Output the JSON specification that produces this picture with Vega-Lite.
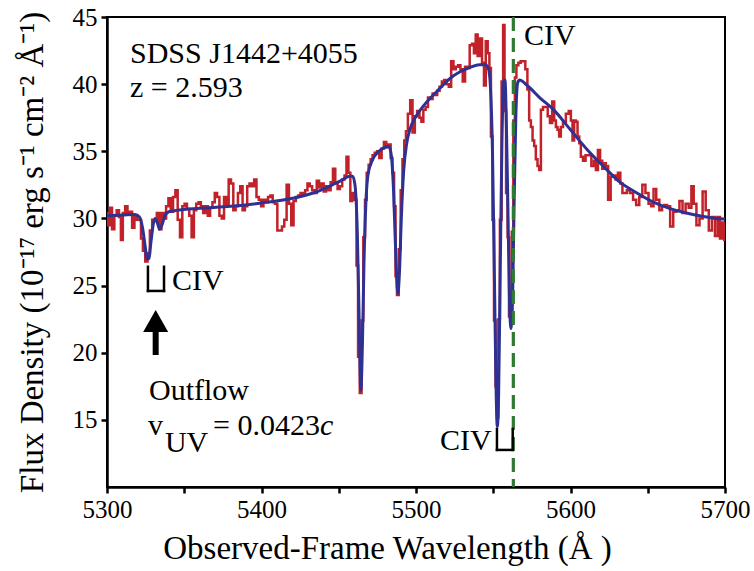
{
  "$schema": "https://vega.github.io/schema/vega-lite/v6.json",
  "width": 618,
  "height": 470,
  "autosize": {"type": "none"},
  "padding": {"left": 107, "top": 17, "right": 29, "bottom": 84},
  "background": "white",
  "config": {
    "view": {"stroke": "black", "strokeWidth": 2},
    "axis": {
      "labelFont": "Liberation Serif",
      "labelFontSize": 25,
      "labelColor": "black",
      "titleFont": "Liberation Serif",
      "titleFontSize": 33,
      "titleFontWeight": "normal",
      "titleColor": "black",
      "domainColor": "black",
      "domainWidth": 2.5,
      "tickColor": "black",
      "tickWidth": 2.5,
      "tickSize": 6,
      "labelPadding": 4,
      "grid": false,
      "labelFlush": false,
      "labelOverlap": false,
      "labelBound": false
    }
  },
  "datasets": {
    "spectrum": [
      {"w":5300,"f":30.4},{"w":5301.5,"f":29.5},{"w":5302.5,"f":30.8},{"w":5304,"f":29.2},{"w":5305.5,"f":30.2},{"w":5307,"f":30.6},{"w":5308.5,"f":30.1},{"w":5309.5,"f":28.4},{"w":5311,"f":30.4},{"w":5312.5,"f":30.9},{"w":5314,"f":30.4},{"w":5315.5,"f":30.5},{"w":5317,"f":29.3},{"w":5318.5,"f":30.2},{"w":5320,"f":29.9},{"w":5321.5,"f":29.9},{"w":5322.5,"f":28.5},{"w":5324,"f":27.6},{"w":5325.5,"f":26.8},{"w":5327,"f":27.4},{"w":5328.5,"f":29.1},{"w":5330,"f":29.9},{"w":5331.5,"f":29.8},{"w":5333,"f":30.4},{"w":5334.5,"f":29.2},{"w":5336,"f":30.4},{"w":5337.5,"f":30.0},{"w":5339,"f":30.9},{"w":5340.5,"f":31.5},{"w":5342,"f":30.5},{"w":5343.5,"f":31.6},{"w":5345,"f":32.1},{"w":5346.5,"f":29.9},{"w":5348,"f":28.6},{"w":5349.5,"f":30.9},{"w":5351,"f":31.1},{"w":5352.5,"f":30.7},{"w":5354,"f":30.2},{"w":5355.5,"f":28.6},{"w":5357,"f":30.6},{"w":5358.5,"f":31.1},{"w":5360,"f":31.2},{"w":5361.5,"f":30.9},{"w":5363,"f":30.4},{"w":5364.5,"f":30.9},{"w":5366,"f":30.2},{"w":5367.5,"f":30.8},{"w":5369,"f":31.2},
      {"w":5370.5,"f":31.9},{"w":5372,"f":31.6},{"w":5373.5,"f":30.2},{"w":5375,"f":30.0},{"w":5376.5,"f":31.6},{"w":5378,"f":31.1},{"w":5379.5,"f":32.9},{"w":5381,"f":32.6},{"w":5382.5,"f":30.6},{"w":5384,"f":30.9},{"w":5385.5,"f":31.9},{"w":5387,"f":32.4},{"w":5388.5,"f":30.6},{"w":5390,"f":30.9},{"w":5391.5,"f":32.4},{"w":5393,"f":32.6},{"w":5394.5,"f":32.4},{"w":5396,"f":32.9},{"w":5397.5,"f":31.6},{"w":5399,"f":31.4},{"w":5400.5,"f":30.9},{"w":5402,"f":31.4},{"w":5403.5,"f":31.2},{"w":5405,"f":31.6},{"w":5406.5,"f":31.7},{"w":5408,"f":31.2},{"w":5409.5,"f":31.1},{"w":5411,"f":29.1},{"w":5412.5,"f":29.1},{"w":5414,"f":29.4},{"w":5415.5,"f":29.9},{"w":5417,"f":32.5},{"w":5418.5,"f":31.1},{"w":5420,"f":29.5},{"w":5421.5,"f":31.3},{"w":5423,"f":31.6},{"w":5424.5,"f":31.7},{"w":5426,"f":31.9},{"w":5427.5,"f":31.8},{"w":5429,"f":32.1},{"w":5430.5,"f":32.6},{"w":5432,"f":32.4},{"w":5433.5,"f":32.1},{"w":5435,"f":31.9},{"w":5436.5,"f":32.8},{"w":5438,"f":32.3},
      {"w":5439.5,"f":32.6},{"w":5441,"f":32.0},{"w":5442.5,"f":32.4},{"w":5444,"f":32.1},{"w":5445.5,"f":32.7},{"w":5447,"f":33.7},{"w":5448.5,"f":32.6},{"w":5450,"f":32.2},{"w":5451.5,"f":32.4},{"w":5453,"f":32.9},{"w":5454.5,"f":33.2},{"w":5455.5,"f":34.6},{"w":5457,"f":33.4},{"w":5458,"f":31.3},{"w":5459.5,"f":31.9},{"w":5461,"f":31.4},{"w":5462,"f":26.5},{"w":5463,"f":19.7},{"w":5464.2,"f":17.0},{"w":5465.3,"f":22.4},{"w":5466.5,"f":28.6},{"w":5467.5,"f":31.4},{"w":5468.7,"f":33.4},{"w":5470,"f":34.0},{"w":5471.3,"f":34.4},{"w":5472.5,"f":34.7},{"w":5474,"f":34.9},{"w":5475.5,"f":35.0},{"w":5477,"f":34.5},{"w":5478.5,"f":35.2},{"w":5480,"f":35.7},{"w":5481.5,"f":35.3},{"w":5483,"f":35.5},{"w":5484.2,"f":34.5},{"w":5485.3,"f":33.4},{"w":5486.3,"f":30.9},{"w":5487.2,"f":25.7},{"w":5488.2,"f":24.3},{"w":5489.5,"f":27.7},{"w":5490.7,"f":32.1},{"w":5491.8,"f":34.4},{"w":5493,"f":35.8},
      {"w":5494,"f":36.5},{"w":5495.5,"f":37.8},{"w":5497,"f":38.8},{"w":5498.5,"f":36.4},{"w":5500,"f":37.6},{"w":5501.5,"f":38.0},{"w":5503,"f":37.5},{"w":5504,"f":37.2},{"w":5505.5,"f":38.1},{"w":5507,"f":38.3},{"w":5508.5,"f":39.0},{"w":5510,"f":38.9},{"w":5511.5,"f":39.3},{"w":5513,"f":39.2},{"w":5514.5,"f":39.5},{"w":5516,"f":39.8},{"w":5517.5,"f":40.2},{"w":5519,"f":40.3},{"w":5520.5,"f":40.0},{"w":5522,"f":39.8},{"w":5523.5,"f":41.7},{"w":5525,"f":41.1},{"w":5526.5,"f":41.3},{"w":5528,"f":41.4},{"w":5529.5,"f":41.1},{"w":5531,"f":40.2},{"w":5532.5,"f":41.3},{"w":5534,"f":41.2},{"w":5535.5,"f":42.9},{"w":5537,"f":43.0},{"w":5538,"f":42.3},{"w":5539.3,"f":43.7},{"w":5540.5,"f":42.1},{"w":5542,"f":43.4},{"w":5543.5,"f":41.6},{"w":5544.5,"f":39.9},{"w":5545.8,"f":43.2},{"w":5547,"f":42.3},{"w":5548,"f":41.2},{"w":5549,"f":36.1},{"w":5550,"f":29.9},{"w":5551,"f":22.4},{"w":5552,"f":17.5},{"w":5552.8,"f":15.2},{"w":5553.8,"f":22.5},{"w":5554.8,"f":29.9},{"w":5556,"f":40.2},{"w":5556.8,"f":44.4},{"w":5557.8,"f":38.0},{"w":5558.8,"f":31.9},{"w":5559.8,"f":28.6},{"w":5560.6,"f":22.7},{"w":5561.5,"f":22.4},{"w":5562.5,"f":29.0},{"w":5563.5,"f":37.3},{"w":5564.5,"f":40.5},{"w":5565.5,"f":41.4},{"w":5567,"f":41.6},
      {"w":5568.5,"f":41.7},{"w":5570,"f":41.7},{"w":5571.5,"f":41.1},{"w":5572.7,"f":39.6},{"w":5573.8,"f":37.3},{"w":5574.9,"f":36.8},{"w":5576,"f":35.8},{"w":5577,"f":35.4},{"w":5578.1,"f":34.4},{"w":5579.2,"f":33.9},{"w":5580.3,"f":33.6},{"w":5581.4,"f":38.1},{"w":5583,"f":38.3},{"w":5584.5,"f":38.3},{"w":5586,"f":37.6},{"w":5587.4,"f":37.1},{"w":5588.9,"f":38.7},{"w":5590,"f":37.3},{"w":5591.1,"f":36.8},{"w":5592.1,"f":36.6},{"w":5593.2,"f":36.1},{"w":5594.3,"f":36.8},{"w":5596,"f":37.2},{"w":5598,"f":37.8},{"w":5599.7,"f":38.0},{"w":5600.8,"f":37.3},{"w":5601.8,"f":35.8},{"w":5602.9,"f":37.3},{"w":5604,"f":37.2},{"w":5605.1,"f":36.1},{"w":5606.2,"f":35.6},{"w":5607.2,"f":34.6},{"w":5609,"f":34.3},{"w":5610.5,"f":34.7},{"w":5612.5,"f":34.7},{"w":5614.5,"f":33.9},{"w":5615.9,"f":34.3},{"w":5617,"f":33.6},{"w":5618.5,"f":35.1},{"w":5619.8,"f":34.3},{"w":5621.3,"f":33.7},{"w":5622.3,"f":34.1},{"w":5623.4,"f":33.9},{"w":5625.3,"f":31.4},{"w":5626.7,"f":33.1},{"w":5628.5,"f":33.2},{"w":5629.9,"f":32.9},{"w":5631.5,"f":33.4},{"w":5633,"f":32.6},{"w":5634.2,"f":31.9},
      {"w":5635.5,"f":31.9},{"w":5637.5,"f":32.1},{"w":5639.5,"f":31.9},{"w":5641.5,"f":31.4},{"w":5643.5,"f":31.0},{"w":5645.5,"f":31.6},{"w":5647.5,"f":32.5},{"w":5649.5,"f":31.9},{"w":5651.5,"f":31.1},{"w":5653,"f":30.9},{"w":5654.5,"f":32.2},{"w":5656.5,"f":31.4},{"w":5658.5,"f":30.6},{"w":5660,"f":30.9},{"w":5661.5,"f":31.0},{"w":5663.5,"f":30.9},{"w":5665.5,"f":29.4},{"w":5667.5,"f":30.5},{"w":5669.5,"f":30.6},{"w":5671.5,"f":31.3},{"w":5673.5,"f":30.4},{"w":5675.5,"f":31.1},{"w":5677.5,"f":30.8},{"w":5679,"f":32.4},{"w":5680.5,"f":31.1},{"w":5682.5,"f":29.5},{"w":5684.5,"f":30.0},{"w":5686.5,"f":32.0},{"w":5688.5,"f":30.6},{"w":5690.5,"f":29.1},{"w":5692.5,"f":30.1},{"w":5694.5,"f":28.7},{"w":5696,"f":30.1},{"w":5697.5,"f":28.5},{"w":5699,"f":29.7},{"w":5700,"f":28.4}
    ],
    "model": [
      {"w":5300,"f":30.2},{"w":5310,"f":30.25},{"w":5318,"f":30.3},{"w":5321,"f":30.1},{"w":5323,"f":29.3},{"w":5324.5,"f":28.1},{"w":5326,"f":27.0},{"w":5327,"f":27.0},{"w":5328.5,"f":28.3},{"w":5330,"f":29.6},{"w":5331,"f":30.0},{"w":5332.5,"f":29.7},{"w":5334,"f":29.2},{"w":5335.5,"f":29.5},{"w":5337.5,"f":30.2},{"w":5340,"f":30.5},{"w":5345,"f":30.6},{"w":5360,"f":30.75},{"w":5380,"f":30.9},{"w":5400,"f":31.15},{"w":5420,"f":31.5},{"w":5435,"f":31.95},{"w":5445,"f":32.45},{"w":5452,"f":32.85},{"w":5457,"f":33.15},{"w":5459,"f":33.15},{"w":5460.5,"f":32.5},{"w":5462,"f":29.0},{"w":5463.2,"f":22.5},{"w":5464.3,"f":17.2},{"w":5465.3,"f":20.5},{"w":5466.3,"f":26.5},{"w":5467.5,"f":31.0},{"w":5469,"f":33.3},{"w":5472,"f":34.4},{"w":5476,"f":35.0},{"w":5480,"f":35.3},{"w":5482.5,"f":35.35},{"w":5484,"f":34.7},{"w":5485.5,"f":32.0},{"w":5487,"f":27.0},{"w":5488.2,"f":24.4},{"w":5489.3,"f":26.0},{"w":5490.5,"f":30.0},{"w":5492,"f":33.5},{"w":5494,"f":35.6},{"w":5496,"f":36.6},{"w":5500,"f":37.6},{"w":5505,"f":38.4},{"w":5513,"f":39.4},{"w":5524,"f":40.6},{"w":5535,"f":41.25},{"w":5541,"f":41.45},{"w":5545,"f":41.45},{"w":5547,"f":41.1},{"w":5548.3,"f":39.5},{"w":5549.5,"f":35.0},{"w":5550.7,"f":26.0},{"w":5551.8,"f":17.5},{"w":5552.6,"f":14.5},{"w":5553.5,"f":17.0},{"w":5554.5,"f":26.0},{"w":5555.6,"f":35.5},{"w":5556.8,"f":40.2},{"w":5557.6,"f":40.3},{"w":5558.5,"f":37.0},{"w":5559.6,"f":30.0},{"w":5560.6,"f":23.5},{"w":5561.5,"f":21.8},{"w":5562.5,"f":24.0},{"w":5563.5,"f":31.0},{"w":5564.6,"f":37.5},{"w":5565.8,"f":40.1},{"w":5567,"f":40.3},{"w":5572,"f":39.9},{"w":5580,"f":39.0},{"w":5589,"f":38.1},{"w":5600,"f":36.6},{"w":5611,"f":35.1},{"w":5622,"f":33.8},{"w":5632,"f":32.7},{"w":5643,"f":31.9},{"w":5653,"f":31.25},{"w":5664,"f":30.75},{"w":5675,"f":30.4},{"w":5686,"f":30.15},{"w":5697,"f":29.97},{"w":5700,"f":29.95}
    ],
    "restLine": [{"w":5563,"f":45,"f2":10}],
    "doublets": [
      {"w":5326.5,"f":26.4,"w2":5326.5,"f2":24.6},
      {"w":5326.5,"f":24.6,"w2":5336.9,"f2":24.6},
      {"w":5336.9,"f":24.6,"w2":5336.9,"f2":26.4},
      {"w":5552.4,"f":14.32,"w2":5552.4,"f2":12.76},
      {"w":5552.4,"f":12.76,"w2":5562.6,"f2":12.76},
      {"w":5562.6,"f":12.76,"w2":5562.6,"f2":14.32}
    ],
    "arrowShaft": [{"w":5331.5,"f":19.83,"f2":21.8}],
    "arrowHead": [{"w":5331.5,"f":22.37}],
    "labels": [
      {"w":5314.9,"f":41.57,"text":"SDSS J1442+4055"},
      {"w":5314.9,"f":39.04,"text":"z = 2.593"},
      {"w":5569.9,"f":42.9,"text":"CIV"},
      {"w":5342,"f":24.67,"text":"CIV"},
      {"w":5327.2,"f":16.48,"text":"Outflow"},
      {"w":5326.5,"f":13.87,"text":"v"},
      {"w":5337.5,"f":12.61,"text":"UV"},
      {"w":5368.6,"f":13.87,"text":"= 0.0423"},
      {"w":5515.5,"f":12.76,"text":"CIV"}
    ],
    "italicLabels": [{"w":5437.9,"f":13.87,"text":"c"}]
  },
  "encoding": {
    "x": {
      "field": "w",
      "type": "quantitative",
      "scale": {"domain": [5300, 5700], "nice": false, "zero": false},
      "axis": {
        "title": "Observed-Frame Wavelength (Å )",
        "values": [5300, 5350, 5400, 5450, 5500, 5550, 5600, 5650, 5700],
        "format": "d",
        "labelExpr": "datum.value % 100 === 0 ? datum.label : ''",
        "titleX": 280,
        "titleY": 71,
        "titleAnchor": "start",
        "titleAlign": "center",
        "titleBaseline": "alphabetic"
      }
    },
    "y": {
      "field": "f",
      "type": "quantitative",
      "scale": {"domain": [10, 45], "nice": false, "zero": false},
      "axis": {
        "title": "Flux Density  (10⁻¹⁷ erg s⁻¹ cm⁻² Å⁻¹)",
        "values": [15, 20, 25, 30, 35, 40, 45],
        "format": "d",
        "titleAngle": -90,
        "titleX": -65,
        "titleY": 235,
        "titleAlign": "center",
        "titleBaseline": "alphabetic"
      }
    }
  },
  "layer": [
    {
      "data": {"name": "spectrum"},
      "mark": {"type": "line", "interpolate": "step", "color": "#c1222a", "strokeWidth": 2.5, "clip": true}
    },
    {
      "data": {"name": "model"},
      "mark": {"type": "line", "interpolate": "monotone", "color": "#2e3192", "strokeWidth": 3, "clip": true}
    },
    {
      "data": {"name": "restLine"},
      "mark": {"type": "rule", "color": "#2f7a32", "strokeWidth": 3.2, "strokeDash": [14, 7]},
      "encoding": {"y2": {"field": "f2"}}
    },
    {
      "data": {"name": "doublets"},
      "mark": {"type": "rule", "color": "black", "strokeWidth": 2.5, "strokeCap": "square"},
      "encoding": {"x2": {"field": "w2"}, "y2": {"field": "f2"}}
    },
    {
      "data": {"name": "arrowShaft"},
      "mark": {"type": "rule", "color": "black", "strokeWidth": 6},
      "encoding": {"y2": {"field": "f2"}}
    },
    {
      "data": {"name": "arrowHead"},
      "mark": {"type": "point", "shape": "M-1,0.88L0,-0.88L1,0.88Z", "size": 625, "filled": true, "color": "black", "opacity": 1}
    },
    {
      "data": {"name": "labels"},
      "mark": {"type": "text", "font": "Liberation Serif", "fontSize": 30, "align": "left", "baseline": "alphabetic", "color": "black"},
      "encoding": {"text": {"field": "text"}}
    },
    {
      "data": {"name": "italicLabels"},
      "mark": {"type": "text", "font": "Liberation Serif", "fontSize": 30, "fontStyle": "italic", "align": "left", "baseline": "alphabetic", "color": "black"},
      "encoding": {"text": {"field": "text"}}
    }
  ]
}
